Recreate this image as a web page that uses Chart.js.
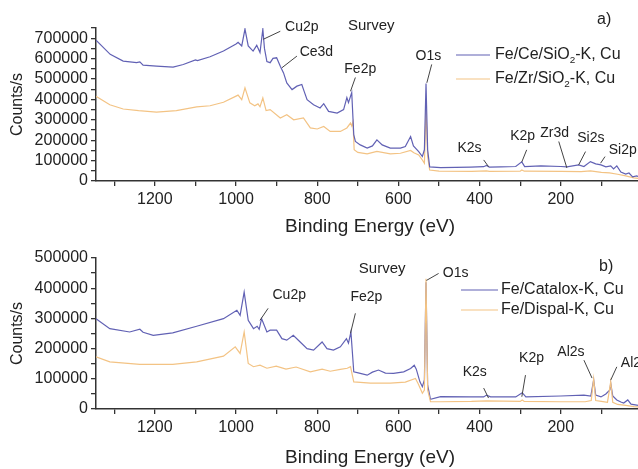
<!DOCTYPE html>
<html>
<head>
<meta charset="utf-8">
<script src="https://cdn.jsdelivr.net/npm/chart.js@4.4.1/dist/chart.umd.min.js"></script>
<style>
  html, body { margin: 0; padding: 0; background: #fff; overflow: hidden; }
  .panel { position: absolute; left: 0; width: 700px; }
  #topWrap { top: 0; height: 240px; }
  #botWrap { top: 234px; height: 235px; }
</style>
</head>
<body>
<div class="panel" id="topWrap"><canvas id="topChart"></canvas></div>
<div class="panel" id="botWrap"><canvas id="botChart"></canvas></div>
<script>
// [binding energy (eV), counts/s]
const feCeSiO2 = [[1345,690000],[1310,621000],[1278,588000],[1245,580000],[1237,584000],[1229,568000],[1196,563000],[1155,558000],[1130,571000],[1100,594000],[1095,590000],[1064,609000],[1031,637000],[1000,672000],[995,680000],[986,662000],[978,745000],[970,662000],[958,637000],[949,665000],[941,630000],[934,744000],[930,650000],[924,585000],[916,580000],[909,601000],[900,604000],[891,563000],[883,530000],[875,481000],[862,448000],[850,465000],[838,473000],[832,438000],[825,399000],[809,374000],[793,358000],[784,379000],[772,341000],[751,333000],[735,350000],[727,409000],[723,384000],[715,433000],[710,227000],[706,194000],[694,177000],[677,161000],[664,172000],[653,202000],[640,177000],[620,161000],[595,161000],[583,169000],[570,218000],[563,172000],[550,144000],[541,120000],[536,153000],[532,478000],[528,153000],[523,69000],[496,66000],[422,68000],[390,70000],[383,76000],[376,68000],[348,69000],[311,71000],[296,94000],[289,71000],[249,74000],[200,71000],[185,69000],[156,79000],[143,71000],[127,95000],[114,84000],[101,79000],[89,69000],[77,74000],[70,59000],[62,74000],[52,44000],[40,34000],[32,39000],[23,20000],[13,25000],[0,15000]];
const feZrSiO2 = [[1345,415000],[1311,374000],[1278,353000],[1240,345000],[1196,338000],[1147,345000],[1097,363000],[1064,369000],[1031,386000],[1000,416000],[995,421000],[986,399000],[978,457000],[966,383000],[954,369000],[946,378000],[941,364000],[934,407000],[926,345000],[916,350000],[891,309000],[875,325000],[858,300000],[834,309000],[817,260000],[800,255000],[784,267000],[768,243000],[743,243000],[727,260000],[718,284000],[715,270000],[712,290000],[709,153000],[700,140000],[677,133000],[653,145000],[620,133000],[595,136000],[570,150000],[562,138000],[550,128000],[541,103000],[536,87000],[532,350000],[528,120000],[523,54000],[500,48000],[420,47000],[383,50000],[376,47000],[300,48000],[296,54000],[290,48000],[200,47000],[150,46000],[127,50000],[100,42000],[80,40000],[60,33000],[40,25000],[20,15000],[0,10000]];
const feCatalox = [[1345,299000],[1311,266000],[1262,255000],[1237,264000],[1229,254000],[1204,244000],[1156,252000],[1097,274000],[1031,299000],[998,327000],[990,310000],[980,387000],[970,294000],[957,266000],[948,274000],[943,264000],[937,299000],[924,255000],[916,261000],[900,261000],[887,233000],[875,228000],[859,244000],[842,222000],[825,200000],[809,195000],[788,222000],[776,200000],[760,195000],[743,206000],[728,233000],[723,218000],[717,255000],[710,123000],[694,118000],[677,112000],[664,122000],[649,129000],[632,119000],[612,118000],[587,123000],[570,134000],[561,145000],[556,132000],[547,90000],[541,74000],[536,96000],[532,420000],[528,79000],[521,32000],[496,41000],[422,40000],[390,40000],[383,46000],[373,40000],[311,40000],[295,54000],[286,40000],[200,43000],[143,46000],[126,43000],[119,96000],[114,46000],[101,40000],[89,50000],[79,63000],[77,85000],[72,43000],[62,30000],[52,23000],[45,20000],[35,30000],[27,16000],[13,13000],[0,10000]];
const feDispal = [[1345,173000],[1311,156000],[1237,148000],[1156,148000],[1097,156000],[1031,175000],[1002,206000],[990,184000],[980,255000],[970,151000],[957,140000],[941,145000],[924,135000],[901,142000],[877,132000],[852,139000],[817,123000],[788,132000],[768,125000],[743,131000],[726,135000],[718,140000],[710,90000],[669,86000],[620,86000],[583,89000],[558,101000],[551,83000],[541,52000],[536,63000],[532,431000],[528,63000],[521,24000],[496,24000],[420,25000],[383,27000],[300,25000],[295,30000],[290,25000],[200,24000],[140,24000],[125,28000],[119,100000],[114,28000],[100,25000],[85,22000],[77,90000],[72,22000],[60,15000],[40,12000],[20,8000],[0,6000]];

// peak labels: text position and leader line, in (eV, counts)
const topPeaks = [
  { text: 'Cu2p', at: [838, 753700], from: [933, 694600], to: [891, 734000] },
  { text: 'Ce3d', at: [802, 630500], from: [887, 555000], to: [850, 612300] },
  { text: 'Fe2p', at: [694, 546800], from: [718, 439900], to: [706, 507400] },
  { text: 'O1s', at: [526, 612300], from: [530, 481300], to: [518, 571400] },
  { text: 'K2s', at: [425, 161100], from: [390, 103400], to: [378, 70400] },
  { text: 'K2p', at: [294, 218200], from: [284, 152700], to: [296, 93600] },
  { text: 'Zr3d', at: [215, 236400], from: [205, 193600], to: [185, 64000] },
  { text: 'Si2s', at: [126, 211800], from: [139, 144300], to: [156, 78800] },
  { text: 'Si2p', at: [82, 152700], align: 'left', from: [91, 119700], to: [102, 87200] },
  { text: 'Survey', at: [667, 760000], size: 15 }
];
const botPeaks = [
  { text: 'Cu2p', at: [869, 376200], from: [941, 293700], to: [921, 333300] },
  { text: 'Fe2p', at: [679, 370600], from: [718, 250800], to: [706, 316800] },
  { text: 'O1s', at: [459, 448800], from: [531, 425700], to: [501, 448800] },
  { text: 'K2s', at: [412, 123100], from: [390, 69300], to: [378, 36300] },
  { text: 'K2p', at: [272, 168300], from: [287, 112200], to: [296, 40600] },
  { text: 'Al2s', at: [175, 189100], from: [143, 161700], to: [123, 102300] },
  { text: 'Al2p', at: [52, 151800], align: 'left', from: [62, 139600], to: [77, 95700] },
  { text: 'Survey', at: [640, 465300], size: 15 }
];

const FONT = '"Liberation Sans", Arial, sans-serif';
const BLUE = '#6161b4';
const ORANGE = '#f3c384';
const INK = '#222';

function drawParts(ctx, parts, x, y, size) {
  parts.forEach(([txt, sub]) => {
    ctx.font = (sub ? size * 0.62 : size) + 'px ' + FONT;
    ctx.fillText(txt, x, sub ? y + size * 0.32 : y);
    x += ctx.measureText(txt).width;
  });
}

const panelText = {
  id: 'panelText',
  afterDatasetsDraw(chart, args, o) {
    const { ctx, scales: { x, y } } = chart;
    ctx.save();
    ctx.fillStyle = INK;
    ctx.strokeStyle = '#444';
    ctx.lineWidth = 1;
    ctx.textBaseline = 'middle';
    o.peaks.forEach(p => {
      if (p.from) {
        ctx.beginPath();
        ctx.moveTo(x.getPixelForValue(p.from[0]), y.getPixelForValue(p.from[1]));
        ctx.lineTo(x.getPixelForValue(p.to[0]), y.getPixelForValue(p.to[1]));
        ctx.stroke();
      }
      ctx.font = (p.size || 14) + 'px ' + FONT;
      ctx.textAlign = p.align || 'center';
      ctx.fillText(p.text, x.getPixelForValue(p.at[0]), y.getPixelForValue(p.at[1]));
    });

    // legend
    const L = o.legend;
    ctx.textAlign = 'left';
    ctx.lineWidth = 1.2;
    [BLUE, ORANGE].forEach((c, i) => {
      ctx.strokeStyle = c;
      ctx.beginPath();
      ctx.moveTo(L.x0, L.ys[i]);
      ctx.lineTo(L.x1, L.ys[i]);
      ctx.stroke();
      ctx.fillStyle = INK;
      drawParts(ctx, o.names[i], L.tx, L.ys[i], 16);
    });

    ctx.font = '16px ' + FONT;
    ctx.fillText(o.tag.text, o.tag.x, o.tag.y);
    ctx.restore();
  }
};

function makePanel(id, cfg) {
  const axisColor = '#333';
  return new Chart(document.getElementById(id), {
    type: 'line',
    data: {
      datasets: [
        { data: cfg.series[0].map(([e, c]) => ({ x: e, y: c })), borderColor: BLUE, order: cfg.order[0] },
        { data: cfg.series[1].map(([e, c]) => ({ x: e, y: c })), borderColor: ORANGE, order: cfg.order[1] }
      ]
    },
    options: {
      animation: false,
      responsive: true,
      maintainAspectRatio: false,
      elements: { point: { radius: 0 }, line: { borderWidth: 1.2, tension: 0 } },
      layout: { padding: { top: cfg.padTop, right: 56, left: 0, bottom: 0 } },
      plugins: {
        legend: { display: false },
        tooltip: { enabled: false },
        panelText: cfg.text
      },
      scales: {
        x: {
          type: 'linear',
          reverse: true,
          min: -5,
          max: 1345,
          afterFit: s => { s.height = cfg.xHeight; },
          ticks: {
            stepSize: 100, includeBounds: false, autoSkip: false, maxRotation: 0,
            padding: 4, color: INK, font: { family: FONT, size: 16 },
            callback: v => (v % 200 === 0 ? String(v) : '')
          },
          grid: { drawOnChartArea: false, tickLength: 5, color: axisColor, lineWidth: 1.3 },
          border: { color: axisColor, width: 1.5 },
          title: {
            display: true, text: 'Binding Energy (eV)', color: INK,
            font: { family: FONT, size: 19, lineHeight: 1 },
            padding: { top: 0, bottom: cfg.titlePad }
          }
        },
        y: {
          min: 0,
          max: cfg.yMax,
          afterFit: s => { s.width = 96; },
          ticks: {
            stepSize: 50000, autoSkip: false, padding: 3, color: INK,
            font: { family: FONT, size: 16 },
            callback: v => (v % 100000 === 0 ? String(v) : '')
          },
          grid: { drawOnChartArea: false, tickLength: 5, color: axisColor, lineWidth: 1.3 },
          border: { color: axisColor, width: 1.5 },
          title: {
            display: true, text: 'Counts/s', color: INK,
            font: { family: FONT, size: 16, lineHeight: 1 },
            padding: { top: 10, bottom: 0 }
          }
        }
      }
    },
    plugins: [panelText]
  });
}

makePanel('topChart', {
  series: [feCeSiO2, feZrSiO2],
  order: [1, 2],
  yMax: 750000, padTop: 28, xHeight: 59, titlePad: 4,
  text: {
    peaks: topPeaks,
    names: [[['Fe/Ce/SiO', false], ['2', true], ['-K, Cu', false]],
            [['Fe/Zr/SiO', false], ['2', true], ['-K, Cu', false]]],
    legend: { x0: 456, x1: 490, tx: 495, ys: [55, 79] },
    tag: { text: 'a)', x: 597, y: 20 }
  }
});

makePanel('botChart', {
  series: [feCatalox, feDispal],
  order: [2, 1],
  yMax: 500000, padTop: 24, xHeight: 60, titlePad: 2,
  text: {
    peaks: botPeaks,
    names: [[['Fe/Catalox-K, Cu', false]], [['Fe/Dispal-K, Cu', false]]],
    legend: { x0: 461, x1: 498, tx: 501, ys: [56, 76] },
    tag: { text: 'b)', x: 599, y: 33 }
  }
});
</script>
</body>
</html>
